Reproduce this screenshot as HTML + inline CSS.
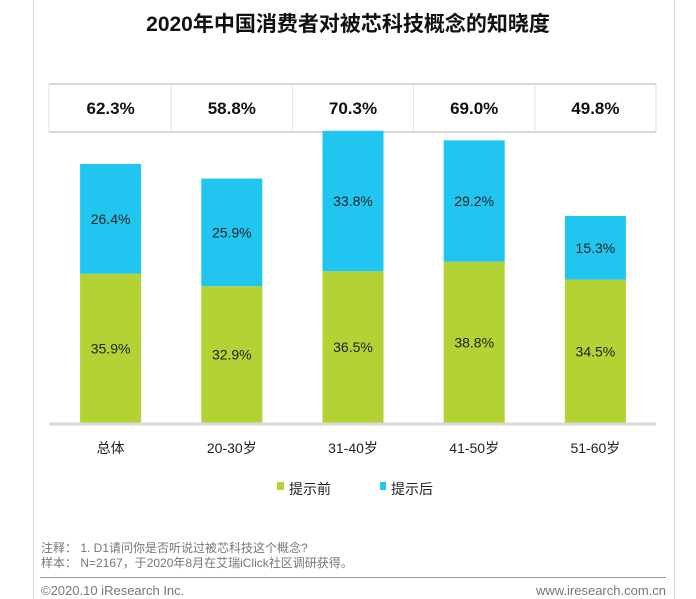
<!DOCTYPE html>
<html><head><meta charset="utf-8"><style>
body{margin:0;width:696px;height:599px;background:#fff;position:relative;overflow:hidden;font-family:"Liberation Sans","Noto Sans CJK SC",sans-serif}
.a{position:absolute}
</style></head><body>
<div class="a" style="left:33px;top:0;width:1px;height:599px;background:#d8d8d8"></div>
<div class="a" style="left:674px;top:0;width:1px;height:599px;background:#d8d8d8"></div>
<div class="a" style="left:0;width:696px;top:8px;text-align:center;font-size:21px;font-weight:bold;color:#111">2020年中国消费者对被芯科技概念的知晓度</div>
<svg class="a" style="left:0;top:0" width="696" height="599">
<g id="g"></g>
</svg>
<div class="a" style="left:41px;top:539px;font-size:12px;color:#777">注释：&nbsp;1. D1请问你是否听说过被芯科技这个概念?</div>
<div class="a" style="left:41px;top:554px;font-size:12px;color:#777">样本：&nbsp;N=2167，于2020年8月在艾瑞iClick社区调研获得。</div>
<div class="a" style="left:40px;top:577px;width:626px;height:1px;background:#999"></div>
<div class="a" style="left:41px;top:583px;font-size:13px;color:#777">©2020.10 iResearch Inc.</div>
<div class="a" style="right:30px;top:583px;font-size:13px;color:#777">www.iresearch.com.cn</div>
<script>
const categories=["总体","20-30岁","31-40岁","41-50岁","51-60岁"];
const before=[35.9,32.9,36.5,38.8,34.5];
const after=[26.4,25.9,33.8,29.2,15.3];
const totals=["62.3%","58.8%","70.3%","69.0%","49.8%"];
const NS="http://www.w3.org/2000/svg",g=document.getElementById('g');
const base=423,k=4.157,x0=50,step=121.2,bw=61;
const y=v=>base-v*k, cx=i=>x0+step*i+step/2;
function mk(t,a,txt){const e=document.createElementNS(NS,t);for(const n in a)e.setAttribute(n,a[n]);if(txt!=null)e.textContent=txt;g.appendChild(e);return e;}
let e=mk('rect',{x:49,y:84,width:607,height:48,fill:'#fff',stroke:'#e0e0e0'});

mk('line',{x1:49,x2:656,y1:84,y2:84,stroke:'#ccc','stroke-width':1.5});
mk('line',{x1:49,x2:656,y1:132,y2:132,stroke:'#ccc','stroke-width':1.5});
for(let i=1;i<5;i++){mk('line',{x1:x0+step*i,x2:x0+step*i,y1:84,y2:132,stroke:'#e3e3e3'});}
categories.forEach((c,i)=>{
 let t=mk('text',{x:cx(i),y:114,'text-anchor':'middle','font-size':17,'font-weight':'bold',fill:'#111'},totals[i]);
 
 let r=mk('rect',{x:cx(i)-bw/2,y:y(before[i]),width:bw,height:before[i]*k,fill:'#b3d234'});
 
 let r2=mk('rect',{x:cx(i)-bw/2,y:y(before[i]+after[i]),width:bw,height:after[i]*k,fill:'#20c6f0'});
 
 let l1=mk('text',{x:cx(i),y:y(before[i]/2)+5,'text-anchor':'middle','font-size':14,fill:'#222'},before[i].toFixed(1)+'%');
 
 let l2=mk('text',{x:cx(i),y:y(before[i]+after[i]/2)+5,'text-anchor':'middle','font-size':14,fill:'#222'},after[i].toFixed(1)+'%');
 
 let cl=mk('text',{x:cx(i),y:453,'text-anchor':'middle','font-size':14,fill:'#222'},c);
 
});
let ax=mk('line',{x1:49,x2:656,y1:424,y2:424,stroke:'#d9d9d9','stroke-width':3});

let s1=mk('rect',{x:277,y:482,width:7,height:8,fill:'#b3d234'});

let t1=mk('text',{x:289,y:494,'font-size':14,fill:'#222'},'提示前');

let s2=mk('rect',{x:380,y:482,width:6,height:8,fill:'#20c6f0'});

let t2=mk('text',{x:391,y:494,'font-size':14,fill:'#222'},'提示后');

</script>
</body></html>
